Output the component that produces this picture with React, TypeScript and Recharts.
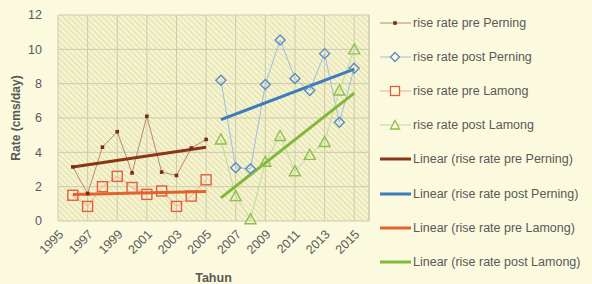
import React from 'react';
import { LineChart, Line, XAxis, YAxis, CartesianGrid, ReferenceLine } from 'recharts';

if (typeof document !== 'undefined') document.body.style.margin = '0';

const preYears = [1996, 1997, 1998, 1999, 2000, 2001, 2002, 2003, 2004, 2005];
const postYears = [2006, 2007, 2008, 2009, 2010, 2011, 2012, 2013, 2014, 2015];

const prePerning = [3.15, 1.6, 4.3, 5.2, 2.8, 6.1, 2.85, 2.65, 4.25, 4.75];
const preLamong = [1.5, 0.85, 2.0, 2.6, 1.95, 1.55, 1.75, 0.85, 1.45, 2.4];
const postPerning = [8.2, 3.1, 3.05, 7.95, 10.55, 8.3, 7.6, 9.75, 5.75, 8.9];
const postLamong = [4.75, 1.45, 0.1, 3.45, 4.95, 2.9, 3.85, 4.6, 7.6, 10.0];

// trendline end points
const trendPrePerning = [3.15, 4.3];
const trendPreLamong = [1.55, 1.72];
const trendPostPerning = [5.9, 8.85];
const trendPostLamong = [1.35, 7.45];

const xTicks = [1995, 1997, 1999, 2001, 2003, 2005, 2007, 2009, 2011, 2013, 2015];
const yTicks = [0, 2, 4, 6, 8, 10, 12];

const rows: any[] = [];
preYears.forEach((y, i) => {
  rows.push({
    year: y,
    prePerning: prePerning[i],
    preLamong: preLamong[i],
    tPrePerning: i === 0 ? trendPrePerning[0] : i === preYears.length - 1 ? trendPrePerning[1] : null,
    tPreLamong: i === 0 ? trendPreLamong[0] : i === preYears.length - 1 ? trendPreLamong[1] : null,
  });
});
postYears.forEach((y, i) => {
  rows.push({
    year: y,
    postPerning: postPerning[i],
    postLamong: postLamong[i],
    tPostPerning: i === 0 ? trendPostPerning[0] : i === postYears.length - 1 ? trendPostPerning[1] : null,
    tPostLamong: i === 0 ? trendPostLamong[0] : i === postYears.length - 1 ? trendPostLamong[1] : null,
  });
});

const FONT = '"Liberation Sans", Arial, sans-serif';
const TXT = '#595959';

const C = {
  prePerningLine: '#b98a72', prePerningDot: '#7a2a10', prePerningTrend: '#8a3516',
  postPerningLine: '#9dbde0', postPerningDot: '#5a8cc6', postPerningTrend: '#3d7bbf',
  preLamongLine: '#f2a98c', preLamongDot: '#e0603c', preLamongTrend: '#e4622c',
  postLamongLine: '#bcdc98', postLamongDot: '#8dc04c', postLamongTrend: '#80b83c',
};

const smallSquare = (p: any) =>
  p.cy == null ? <g key={p.key} /> : <rect key={p.key} x={p.cx - 1.8} y={p.cy - 1.8} width={3.6} height={3.6} fill={C.prePerningDot} />;
const diamond = (p: any) =>
  p.cy == null ? <g key={p.key} /> : (
    <path key={p.key} d={`M${p.cx},${p.cy - 5} L${p.cx + 5},${p.cy} L${p.cx},${p.cy + 5} L${p.cx - 5},${p.cy} Z`}
      fill="none" stroke={C.postPerningDot} strokeWidth={1.4} />
  );
const square = (p: any) =>
  p.cy == null ? <g key={p.key} /> : (
    <rect key={p.key} x={p.cx - 5} y={p.cy - 5} width={10} height={10} fill="none" stroke={C.preLamongDot} strokeWidth={1.4} />
  );
const triangle = (p: any) =>
  p.cy == null ? <g key={p.key} /> : (
    <path key={p.key} d={`M${p.cx},${p.cy - 5.5} L${p.cx + 5.5},${p.cy + 4.5} L${p.cx - 5.5},${p.cy + 4.5} Z`}
      fill="none" stroke={C.postLamongDot} strokeWidth={1.4} />
  );

const XTick = ({ x, y, payload }: any) => (
  <text x={0} y={0} transform={`translate(${x + 3},${y + 3}) rotate(-45)`} textAnchor="end" dy="0.35em"
    fontSize={12.5} fill={TXT} fontFamily={FONT}>
    {payload.value}
  </text>
);

const legendItems = [
  { label: 'rise rate pre Perning', color: C.prePerningLine, marker: 'small', mc: C.prePerningDot, w: 1 },
  { label: 'rise rate post Perning', color: C.postPerningLine, marker: 'diamond', mc: C.postPerningDot, w: 1 },
  { label: 'rise rate pre Lamong', color: C.preLamongLine, marker: 'square', mc: C.preLamongDot, w: 1 },
  { label: 'rise rate post Lamong', color: C.postLamongLine, marker: 'triangle', mc: C.postLamongDot, w: 1 },
  { label: 'Linear (rise rate pre Perning)', color: C.prePerningTrend, marker: '', mc: '', w: 3 },
  { label: 'Linear (rise rate post Perning)', color: C.postPerningTrend, marker: '', mc: '', w: 3 },
  { label: 'Linear (rise rate pre Lamong)', color: C.preLamongTrend, marker: '', mc: '', w: 3 },
  { label: 'Linear (rise rate post Lamong)', color: C.postLamongTrend, marker: '', mc: '', w: 3 },
];

const LegendIcon = ({ it }: any) => {
  const cx = 15, cy = 7;
  let m = null;
  if (it.marker === 'small') m = <rect x={cx - 1.8} y={cy - 1.8} width={3.6} height={3.6} fill={it.mc} />;
  if (it.marker === 'diamond') m = <path d={`M${cx},${cy - 4.5} L${cx + 4.5},${cy} L${cx},${cy + 4.5} L${cx - 4.5},${cy} Z`} fill="#fbf9de" stroke={it.mc} strokeWidth={1.3} />;
  if (it.marker === 'square') m = <rect x={cx - 4.5} y={cy - 4.5} width={9} height={9} fill="#fbf9de" stroke={it.mc} strokeWidth={1.3} />;
  if (it.marker === 'triangle') m = <path d={`M${cx},${cy - 4.5} L${cx + 4.5},${cy + 4} L${cx - 4.5},${cy + 4} Z`} fill="#fbf9de" stroke={it.mc} strokeWidth={1.3} />;
  return (
    <svg width={31} height={14} style={{ display: 'block', flex: 'none' }}>
      <line x1={0} y1={cy} x2={31} y2={cy} stroke={it.color} strokeWidth={it.w} />
      {m}
    </svg>
  );
};

export default function App() {
  return (
    <div style={{ position: 'relative', width: 592, height: 284, background: '#fbf9de', fontFamily: FONT, overflow: 'hidden' }}>
      <LineChart width={592} height={284} data={rows} margin={{ top: 15, right: 223, bottom: 0, left: 6 }}>
        <defs>
          <pattern id="hatch" width="4" height="4" patternUnits="userSpaceOnUse" patternTransform="rotate(-45)">
            <rect width="4" height="4" fill="#f6f4cc" />
            <line x1="0" y1="0" x2="0" y2="4" stroke="#d9d6ae" strokeWidth="1.5" />
          </pattern>
        </defs>
        <CartesianGrid stroke="#cdcbab" fill="url(#hatch)" fillOpacity={1} />
        <XAxis type="number" dataKey="year" domain={[1995, 2016]} ticks={xTicks} interval={0}
          axisLine={false} tickLine={false} height={63} tick={<XTick />}
          label={{ value: 'Tahun', position: 'insideBottom', offset: 2, fill: TXT, fontSize: 12.5, fontWeight: 'bold', fontFamily: FONT }} />
        <YAxis domain={[0, 12]} ticks={yTicks} interval={0} axisLine={false} tickLine={false} width={52}
          tick={{ fill: TXT, fontSize: 12.5, fontFamily: FONT }} tickMargin={10}
          label={{ value: 'Rate (cms/day)', angle: -90, position: 'insideLeft', offset: 10, style: { textAnchor: 'middle' }, fill: TXT, fontSize: 12, fontWeight: 'bold', fontFamily: FONT }} />
        <ReferenceLine x={2016} stroke="#cdcbab" />

        <Line dataKey="prePerning" stroke={C.prePerningLine} strokeWidth={1} dot={smallSquare} activeDot={false} isAnimationActive={false} />
        <Line dataKey="postPerning" stroke={C.postPerningLine} strokeWidth={1} dot={diamond} activeDot={false} isAnimationActive={false} />
        <Line dataKey="preLamong" stroke={C.preLamongLine} strokeWidth={1} dot={square} activeDot={false} isAnimationActive={false} />
        <Line dataKey="postLamong" stroke={C.postLamongLine} strokeWidth={1} dot={triangle} activeDot={false} isAnimationActive={false} />

        <Line dataKey="tPrePerning" stroke={C.prePerningTrend} strokeWidth={3} dot={false} connectNulls activeDot={false} isAnimationActive={false} />
        <Line dataKey="tPostPerning" stroke={C.postPerningTrend} strokeWidth={3} dot={false} connectNulls activeDot={false} isAnimationActive={false} />
        <Line dataKey="tPreLamong" stroke={C.preLamongTrend} strokeWidth={3} dot={false} connectNulls activeDot={false} isAnimationActive={false} />
        <Line dataKey="tPostLamong" stroke={C.postLamongTrend} strokeWidth={3} dot={false} connectNulls activeDot={false} isAnimationActive={false} />
      </LineChart>
      <div style={{ position: 'absolute', left: 380, top: 6 }}>
        {legendItems.map((it) => (
          <div key={it.label} style={{ display: 'flex', alignItems: 'center', height: 34.1 }}>
            <LegendIcon it={it} />
            <span style={{ fontSize: 12.5, lineHeight: '14px', color: TXT, marginLeft: 2, whiteSpace: 'nowrap' }}>{it.label}</span>
          </div>
        ))}
      </div>
    </div>
  );
}
